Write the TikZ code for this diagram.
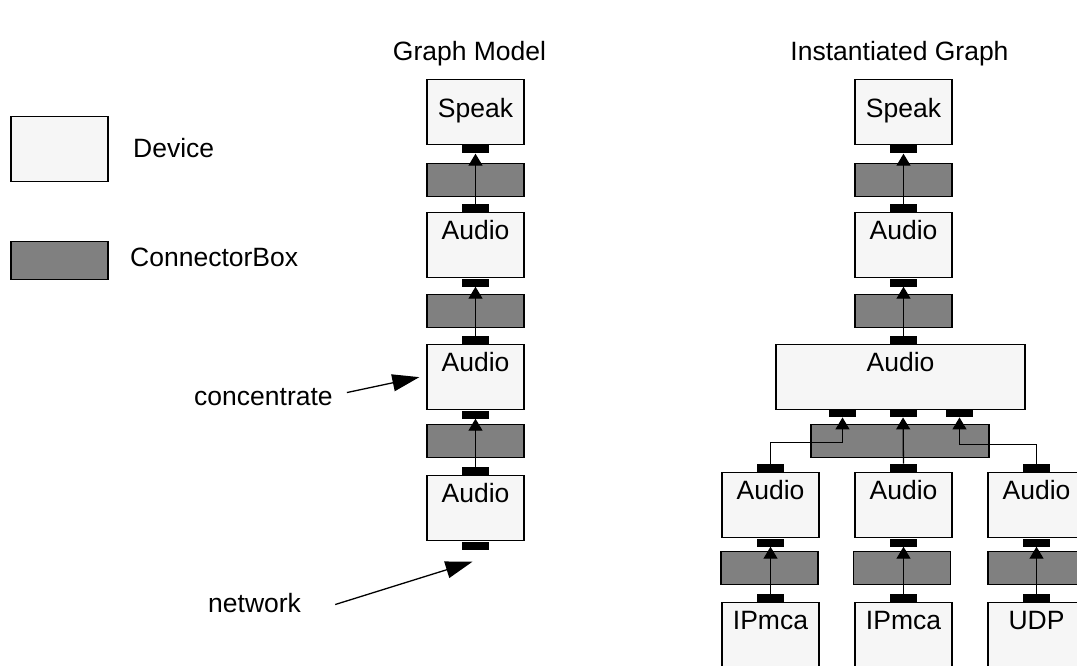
\documentclass[tikz,border=0pt]{standalone}
\usepackage{fontspec}
\setmainfont{Liberation Sans}
\usetikzlibrary{arrows.meta}
\definecolor{devfill}{gray}{0.965}
\definecolor{boxfill}{gray}{0.5}

\begin{document}
\begin{tikzpicture}[x=1pt,y=-1pt,font=\fontsize{26.5}{32}\selectfont,
    device/.style={draw,line width=1.3pt,fill=devfill,minimum width=97pt,
       inner sep=0pt,text height=27pt,text depth=38pt,anchor=north},
    connbox/.style={draw,line width=1.3pt,fill=boxfill,minimum width=97pt,
       minimum height=33pt,inner sep=0pt,anchor=north},
    port/.style={fill=black,minimum width=27pt,minimum height=8pt,inner sep=0pt},
    txt/.style={inner sep=0pt},
    link/.style={line width=1.3pt,-{Triangle[length=12pt,width=14pt]}},
    pointer/.style={line width=1.3pt,-{Triangle[length=27pt,width=17pt]}}]
    \useasboundingbox (0,0) rectangle (1077,666);

    % legend
    \node[device] (legdev) at (59.5,116) {};
    \node[connbox,minimum height=38pt] (legbox) at (59.5,241) {};
    \node[txt,anchor=base west] (legdevtxt) at (133,158) {Device};
    \node[txt,anchor=base west] (legboxtxt) at (130,266) {ConnectorBox};

    % graph model
    \node[txt,anchor=base] (gtitle) at (469.5,61) {Graph Model};
    \node[device,text height=38pt,text depth=27pt] (gspeak) at (475.5,79) {Speak};
    \node[port,anchor=north] (gspeakb) at (gspeak.south) {};
    \node[connbox] (gc1) at (475.5,163) {};
    \node[device] (ga1) at (475.5,212) {Audio};
    \node[port,anchor=south] (ga1t) at (ga1.north) {};
    \node[port,anchor=north] (ga1b) at (ga1.south) {};
    \node[connbox] (gc2) at (475.5,294) {};
    \node[device] (ga2) at (475.5,344) {Audio};
    \node[port,anchor=south] (ga2t) at (ga2.north) {};
    \node[port,anchor=north] (ga2b) at (ga2.south) {};
    \node[connbox] (gc3) at (475.5,424) {};
    \node[device] (ga3) at (475.5,475) {Audio};
    \node[port,anchor=south] (ga3t) at (ga3.north) {};
    \node[port,anchor=north] (ga3b) at (ga3.south) {};
    \draw[link] (ga1t) -- (gspeakb);
    \draw[link] (ga2t) -- (ga1b);
    \draw[link] (ga3t) -- (ga2b);

    \node[txt,anchor=base west] (conc) at (194,405) {concentrate};
    \draw[pointer] ([xshift=14pt,yshift=4pt]conc.east) -- ([xshift=-7pt]ga2.west);
    \node[txt,anchor=base west] (net) at (208,612) {network};
    \draw[pointer] ([xshift=34pt,yshift=-2pt]net.east) -- ([xshift=-3pt,yshift=-12pt]ga3b.south);

    % instantiated graph
    \node[txt,anchor=base] (ititle) at (899.5,61) {Instantiated Graph};
    \node[device,text height=38pt,text depth=27pt] (ispeak) at (903.5,79) {Speak};
    \node[port,anchor=north] (ispeakb) at (ispeak.south) {};
    \node[connbox] (ic1) at (903.5,163) {};
    \node[device] (ia1) at (903.5,212) {Audio};
    \node[port,anchor=south] (ia1t) at (ia1.north) {};
    \node[port,anchor=north] (ia1b) at (ia1.south) {};
    \node[connbox] (ic2) at (903.5,294) {};
    \node[device,minimum width=249pt] (iaud) at (900.5,344) {Audio};
    \node[port,anchor=south] (iaudt) at (903.5,344) {};
    \node[port,anchor=north] (iaudb1) at (842.5,409) {};
    \node[port,anchor=north] (iaudb2) at (903,409) {};
    \node[port,anchor=north] (iaudb3) at (959.5,409) {};
    \node[connbox,minimum width=178pt] (ic3) at (900,424) {};
    \draw[link] (ia1t) -- (ispeakb);
    \draw[link] (iaudt) -- (ia1b);

    \node[device] (iaL) at (770.5,472) {Audio};
    \node[device] (iaM) at (903.5,472) {Audio};
    \node[device] (iaR) at (1036.5,472) {Audio};
    \node[port,anchor=south] (iaLt) at (iaL.north) {};
    \node[port,anchor=south] (iaMt) at (iaM.north) {};
    \node[port,anchor=south] (iaRt) at (iaR.north) {};
    \node[port,anchor=north] (iaLb) at (iaL.south) {};
    \node[port,anchor=north] (iaMb) at (iaM.south) {};
    \node[port,anchor=north] (iaRb) at (iaR.south) {};
    \draw[link] (iaLt.north) -- ++(0,-21) -| (iaudb1);
    \draw[link] (iaMt) -- (iaudb2);
    \draw[link] (iaRt.north) -- ++(0,-19) -| (iaudb3);

    \node[connbox] (icL) at (769.5,551) {};
    \node[connbox] (icM) at (902,551) {};
    \node[connbox] (icR) at (1036.5,551) {};
    \node[device] (ipL) at (770.5,602) {IPmca};
    \node[device] (ipM) at (903.5,602) {IPmca};
    \node[device] (udp) at (1036.5,602) {UDP};
    \node[port,anchor=south] (ipLt) at (ipL.north) {};
    \node[port,anchor=south] (ipMt) at (ipM.north) {};
    \node[port,anchor=south] (udpt) at (udp.north) {};
    \draw[link] (ipLt) -- (iaLb);
    \draw[link] (ipMt) -- (iaMb);
    \draw[link] (udpt) -- (iaRb);
\end{tikzpicture}
\end{document}
